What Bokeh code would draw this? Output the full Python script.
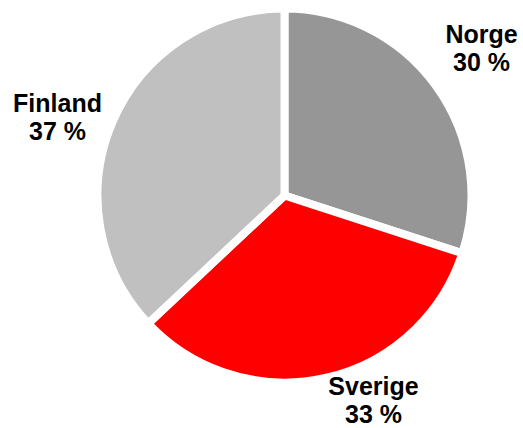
import math
from bokeh.plotting import figure
from bokeh.models import Range1d, ColumnDataSource
from bokeh.core.properties import value
from bokeh.embed import file_html
from bokeh.resources import INLINE

# data
countries = ["Norge", "Sverige", "Finland"]
shares = [30, 33, 37]
pct_labels = ["30 %", "33 %", "37 %"]
colors = ["#969696", "#FF0000", "#C0C0C0"]

# layout (screen pixels in the picture)
W, H = 523, 428
cx_s, cy_s = 284, 195
radius = 187
label_x_s = [481, 373, 57]
label_base1_s = [33, 385, 102]
line_gap = 28

def tx(xs):
    return xs

def ty(ys):
    return H - ys

total = sum(shares)
starts, ends = [], []
cum = 0
for s in shares:
    a0 = math.pi / 2 - 2 * math.pi * cum / total
    cum += s
    a1 = math.pi / 2 - 2 * math.pi * cum / total
    starts.append(a0)
    ends.append(a1)

src = ColumnDataSource(dict(
    x=[tx(cx_s)] * len(shares), y=[ty(cy_s)] * len(shares),
    start=starts, end=ends, color=colors,
))

p = figure(width=W, height=H, output_backend="svg", toolbar_location=None,
           x_range=Range1d(0, W), y_range=Range1d(0, H), min_border=0)
p.axis.visible = False
p.grid.visible = False
p.outline_line_color = None
p.background_fill_color = "white"

p.wedge(x="x", y="y", radius=radius, radius_units="screen",
        start_angle="start", end_angle="end", direction="clock",
        fill_color="color", line_color="white", line_width=8, source=src)

lsrc = ColumnDataSource(dict(
    x=[tx(v) for v in label_x_s],
    y1=[ty(v) for v in label_base1_s],
    y2=[ty(v + line_gap) for v in label_base1_s],
    name=countries, pct=pct_labels,
))
for ycol, tcol in (("y1", "name"), ("y2", "pct")):
    p.text(x="x", y=ycol, text=tcol, source=lsrc,
           text_font=value("Liberation Sans"), text_font_style="bold",
           text_font_size="25px", text_align="center",
           text_baseline="alphabetic", text_color="black")

open("out.html", "w").write(file_html(p, INLINE))
